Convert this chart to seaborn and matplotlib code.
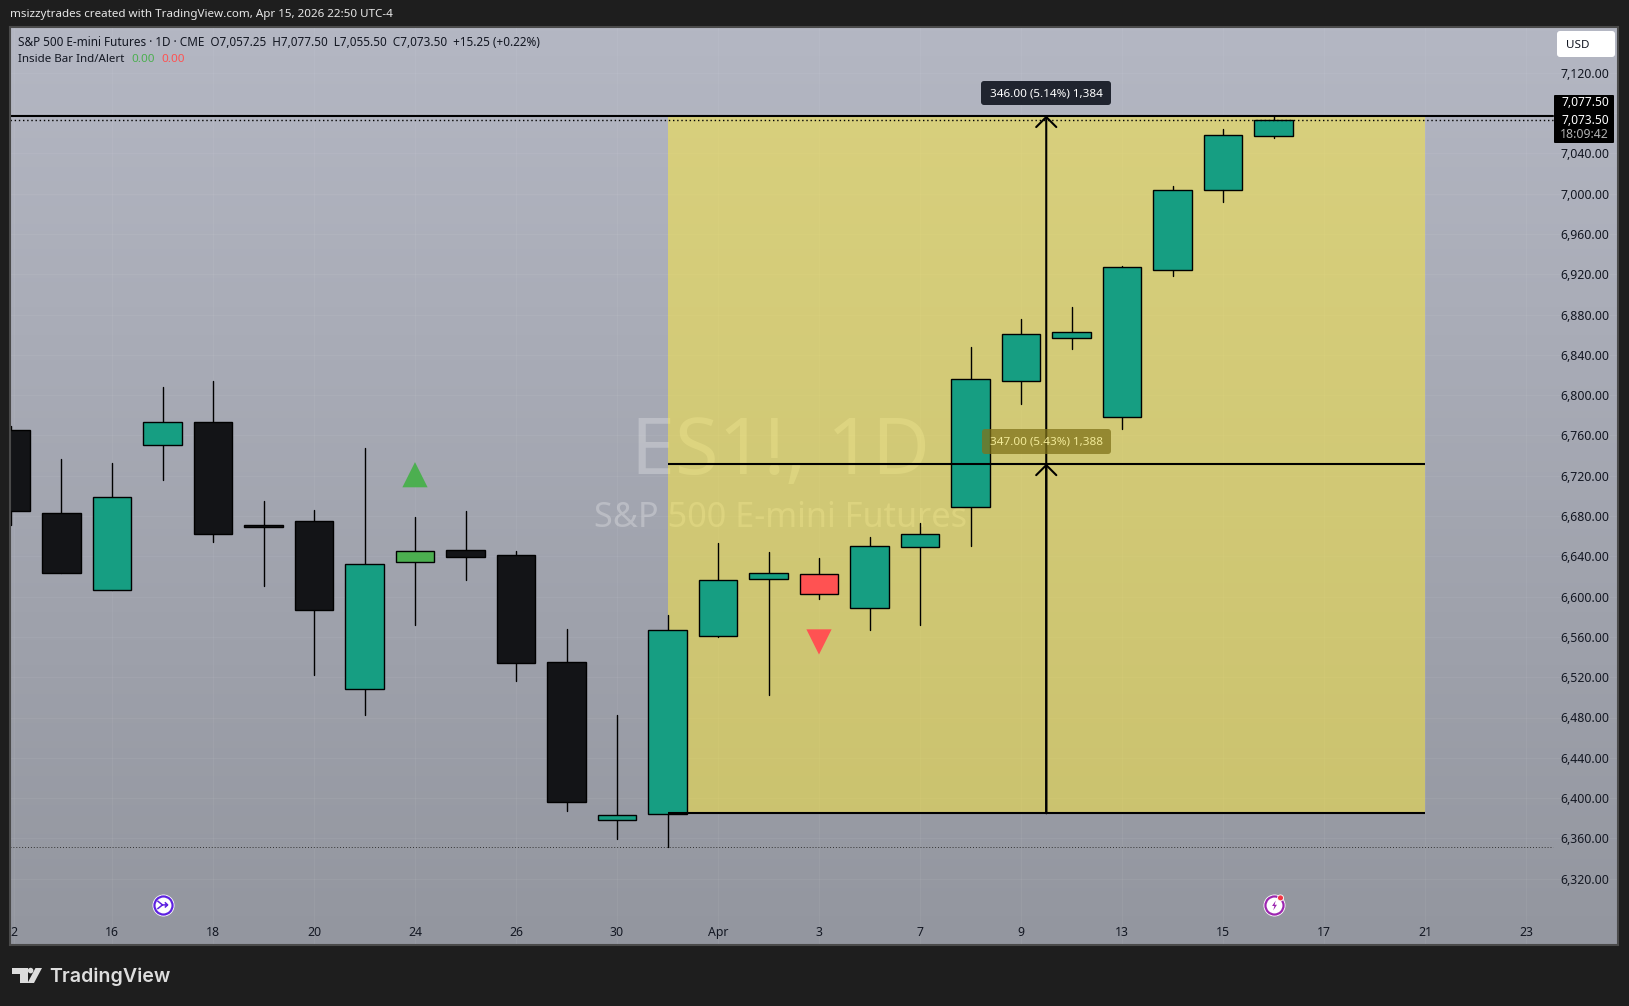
import numpy as np
import pandas as pd
import matplotlib
matplotlib.use("Agg")
import matplotlib.pyplot as plt
from matplotlib.patches import FancyBboxPatch, Polygon, Circle
from matplotlib.path import Path
from matplotlib.transforms import IdentityTransform
import seaborn as sns

# ---- data ----
bar_index = list(range(-2, 24))
opens  = [6765,6683,6607,6750.5,6773,6671,6675,6508,6634,6646,6641,6535,6378,6384,6560.5,6617.5,6622.5,6588.5,6649.5,6688.5,6813.5,6857,6778.5,6924,7003.5,7057.25]
closes = [6684.5,6623.5,6699,6773,6662,6669,6586.5,6632,6645,6639,6534.5,6396.5,6383,6566.5,6616,6623.5,6603,6650.5,6662.5,6815.5,6861,6863,6927,7003.5,7058,7073.5]
highs  = [6769,6737,6733,6808,6813.5,6694.5,6685.5,6747.5,6679,6684.5,6645,6567.5,6482,6582,6653.5,6644,6638,6659.5,6673,6847.5,6875.5,6887.5,6928,7007.5,7064.5,7077.5]
lows   = [6671,6623,6607,6715.5,6654.5,6611,6522.5,6482,6572,6616,6516,6387,6359,6351,6560,6502.5,6597.5,6566.5,6572,6650.5,6791.5,6845.5,6766,6918.5,6992,7055.5]
body_colors = ["#131417","#131417","#169E82","#169E82","#131417","#131417","#131417","#169E82","#4CAF50","#131417",
               "#131417","#131417","#169E82","#169E82","#169E82","#169E82","#FF5252","#169E82","#169E82","#169E82",
               "#169E82","#169E82","#169E82","#169E82","#169E82","#169E82"]
x_tick_pos = [-1.95,0,2,4,6,8,10,12,14,16,18,20,22,24,26,28]
x_tick_labels = ["2","16","18","20","24","26","30","Apr","3","7","9","13","15","17","21","23"]
y_ticks = [7120,7040,7000,6960,6920,6880,6840,6800,6760,6720,6680,6640,6600,6560,6520,6480,6440,6400,6360,6320]
grid_y_extra = [7080]
box_x = [11, 26]
box_low, box_mid, box_high = 6385, 6732, 7077.5
measure_x = 18.5
last_price, last_high, prior_low = 7073.5, 7077.5, 6351
up_signal = (6, 6721)
down_signal = (14, 6555)
icon_price = 6294
icon_bars = [1, 23]
header = "msizzytrades created with TradingView.com, Apr 15, 2026 22:50 UTC-4"
ohlc_line = "S&P 500 E-mini Futures · 1D · CME  O7,057.25  H7,077.50  L7,055.50  C7,073.50  +15.25 (+0.22%)"
indicator = "Inside Bar Ind/Alert"

# ---- figure ----
W, H = 1629, 1006
sns.set_style("white")
FONT = ["Noto Sans", "DejaVu Sans"]
plt.rcParams["font.family"] = FONT
DARK = "#1E1E1E"
fig = plt.figure(figsize=(W/100, H/100), dpi=100, facecolor=DARK)
L, R, T, B = 10, 1618, 27, 945
ax = fig.add_axes([L/W, 1-B/H, (R-L)/W, (B-T)/H])

# background gradient
grad = np.linspace(0, 1, 256).reshape(-1, 1)
top, bot = np.array([180, 183, 195])/255, np.array([147, 150, 159])/255
img = (top[None, None, :]*(1-grad[..., None]) + bot[None, None, :]*grad[..., None])
xl = ((L-112)/50.5, (R-112)/50.5)
yl = (7120-(B-72.7)/1.0075, 7120+(72.7-T)/1.0075)
ax.imshow(img, extent=[xl[0], xl[1], yl[0], yl[1]], aspect="auto", zorder=0, origin="upper")

df = pd.DataFrame({"i": bar_index, "o": opens, "c": closes, "h": highs, "l": lows, "col": body_colors})
df["low_edge"] = df[["o", "c"]].min(axis=1)
df["height"] = (df["o"]-df["c"]).abs()

# watermark
wm = dict(color="white", ha="center", va="center", zorder=0.5)
ax.text(13.23, 6742, "ES1!, 1D", fontsize=57, alpha=0.26, **wm)
ax.text(13.23, 6678, "S&P 500 E-mini Futures", fontsize=24.7, alpha=0.26, **wm)

# position box
ax.fill_between(box_x, box_low, box_high, color="#FFEB3B", alpha=0.5, lw=0, zorder=1)

# wicks
wicks = pd.concat([df[["i", "h"]].rename(columns={"h": "p"}), df[["i", "l"]].rename(columns={"l": "p"})])
sns.lineplot(data=wicks, x="i", y="p", units="i", estimator=None, color="black", lw=1.0, ax=ax, zorder=2, legend=False)

# bodies
before = len(ax.patches)
sns.barplot(data=df, x="i", y="height", bottom=df["low_edge"].values, native_scale=True, width=0.755,
            color="#169E82", saturation=1, errorbar=None, edgecolor="black", linewidth=1.0, ax=ax, zorder=3)
for patch, c in zip(ax.patches[before:], df["col"]):
    patch.set_facecolor(c)

# lines
line_end = (1553-L)/(R-L)
ax.axhline(last_high, xmax=line_end, color="black", lw=1.5, zorder=4)
ax.axhline(last_price, xmax=line_end, color="black", lw=1.0, ls=(0, (1, 2)), zorder=4)
ax.axhline(prior_low, xmax=line_end, color="#333333", lw=0.7, ls=(0, (1, 2)), zorder=1.5)
ax.hlines([box_low, box_mid], box_x[0], box_x[1], color="black", lw=1.5, zorder=4)
for y_end in (box_high, box_mid):
    ax.annotate("", xy=(measure_x, y_end), xytext=(measure_x, box_low), zorder=4,
                arrowprops=dict(arrowstyle="->,head_length=0.5,head_width=0.5", mutation_scale=14.5,
                                lw=1.5, color="black", shrinkA=0, shrinkB=0))

# signals
sig = pd.DataFrame({"i": [up_signal[0], down_signal[0]], "p": [up_signal[1], down_signal[1]], "kind": ["up", "down"]})
sns.scatterplot(data=sig, x="i", y="p", hue="kind", style="kind", markers={"up": "^", "down": "v"},
                palette={"up": "#4CAF50", "down": "#FF5252"}, s=330, linewidth=0, legend=False, ax=ax, zorder=3)

# event icons
ax.scatter(icon_bars, [icon_price]*2, s=250, c="white", lw=0, zorder=5)
ax.scatter(icon_bars[0], icon_price, s=170, facecolor="white", edgecolor="#5E22E0", lw=1.6, zorder=6)
ax.scatter(icon_bars[1], icon_price, s=170, facecolor="white", edgecolor="#9C27B0", lw=1.6, zorder=6)
merge = Path([(-1, .8), (0, 0), (1, 0), (.45, .5), (1, 0), (.45, -.5), (0, 0), (-1, -.8)],
             [Path.MOVETO, Path.LINETO, Path.LINETO, Path.MOVETO, Path.LINETO, Path.LINETO, Path.MOVETO, Path.LINETO])
ax.scatter(icon_bars[0], icon_price, s=55, marker=merge, facecolor="none", edgecolor="#5E22E0", lw=1.1, zorder=7)
bolt = Path([(.25, 1), (-.5, -.1), (-.02, -.1), (-.25, -1), (.5, .15), (.02, .15), (.25, 1)], closed=True)
ax.scatter(icon_bars[1], icon_price, s=50, marker=bolt, c="#9C27B0", lw=0, zorder=7)

# axis
ax.set_xlim(*xl)
ax.set_ylim(*yl)
ax.set_xlabel(""); ax.set_ylabel("")
ax.grid(False)
for v in y_ticks + grid_y_extra:
    ax.axhline(v, color="white", lw=0.6, alpha=0.06, zorder=0.2)
for v in x_tick_pos:
    ax.axvline(v, color="white", lw=0.6, alpha=0.06, zorder=0.2)
ax.yaxis.tick_right()
ax.set_yticks(y_ticks)
ax.set_yticklabels([f"{v:,.2f}" for v in y_ticks], ha="right", fontsize=8.85, color="#131722")
ax.tick_params(axis="y", length=0, pad=-6.2)
ax.set_xticks(x_tick_pos)
ax.set_xticklabels(x_tick_labels, fontsize=8.85, color="#131722")
ax.tick_params(axis="x", length=0, pad=-13.5)
for lab in ax.get_xticklabels():
    if lab.get_text() == "Apr":
        lab.set_fontweight("bold")
for s in ax.spines.values():
    s.set_color("#4A4A4A"); s.set_linewidth(1.5); s.set_visible(True); s.set_zorder(10)

# pixel-placed interface items
def box(x0, y0, x1, y1, fc, alpha=1.0, rad=3, z=8):
    p = FancyBboxPatch((x0+rad, H-y1+rad), x1-x0-2*rad, y1-y0-2*rad, boxstyle=f"round,pad={rad},rounding_size={rad}",
                       fc=fc, ec="none", alpha=alpha, transform=IdentityTransform(), zorder=z, clip_on=False)
    ax.add_patch(p)

def ptext(x, y, s, **kw):
    return ax.text(x, H-y, s, transform=IdentityTransform(), clip_on=False, zorder=kw.pop("zorder", 9), va="center", **kw)

box(981, 81, 1111, 105, "#20242F")
ptext(1046, 93.5, "346.00 (5.14%) 1,384", ha="center", color="white", fontsize=8.4)
box(982, 429, 1111, 454, (0.5, 0.45, 0.1), alpha=0.75)
ptext(1046, 441.5, "347.00 (5.43%) 1,388", ha="center", color="#F2EA98", fontsize=8.4)

box(1557, 31, 1615, 57, "white", rad=3)
ptext(1566, 45, "USD", ha="left", color="#131722", fontsize=8.4)
box(1554, 95, 1614, 143, "black", rad=1)
ptext(1609, 103, "7,077.50", ha="right", color="white", fontsize=8.6, fontweight="bold")
ptext(1609, 120, "7,073.50", ha="right", color="white", fontsize=8.6, fontweight="bold")
ptext(1609, 134, "18:09:42", ha="right", color="#B2B2B2", fontsize=8.85)

ptext(18, 42.5, ohlc_line, ha="left", color="#131722", fontsize=8.45)
ptext(18, 59.5, indicator, ha="left", color="#131722", fontsize=8.3)
ptext(131, 59.5, "0.00", ha="left", color="#4CAF50", fontsize=8.4)
ptext(161.5, 59.5, "0.00", ha="left", color="#FF5252", fontsize=8.4)

# red notification dot on second icon
x_px = ax.transData.transform((icon_bars[1], icon_price))
ax.add_patch(Circle((x_px[0]+7, x_px[1]+7), 3, fc="#F23645", ec="white", lw=0.6,
                    transform=IdentityTransform(), zorder=8, clip_on=False))

# header / footer
fig.text(9.5/W, 1-15/H, header, color="#E6E6E6", fontsize=8.37, va="center", ha="left")
LOGO = "#DDDDDD"
for artist in (
    Polygon([(12, H-968), (27.5, H-968), (27.5, H-983), (20, H-983), (20, H-973.5), (12, H-973.5)], fc=LOGO, ec="none", transform=IdentityTransform()),
    Circle((30.6, H-970.6), 2.8, fc=LOGO, ec="none", transform=IdentityTransform()),
    Polygon([(35.5, H-968), (42, H-968), (34, H-983), (27.5, H-983)], fc=LOGO, ec="none", transform=IdentityTransform()),
):
    fig.add_artist(artist)
fig.text(49/W, 1-977/H, "TradingView", color=LOGO, fontsize=14.1, fontweight="semibold", va="center", ha="left", family="Inter")

fig.savefig("out.png", dpi=100, facecolor=DARK)
